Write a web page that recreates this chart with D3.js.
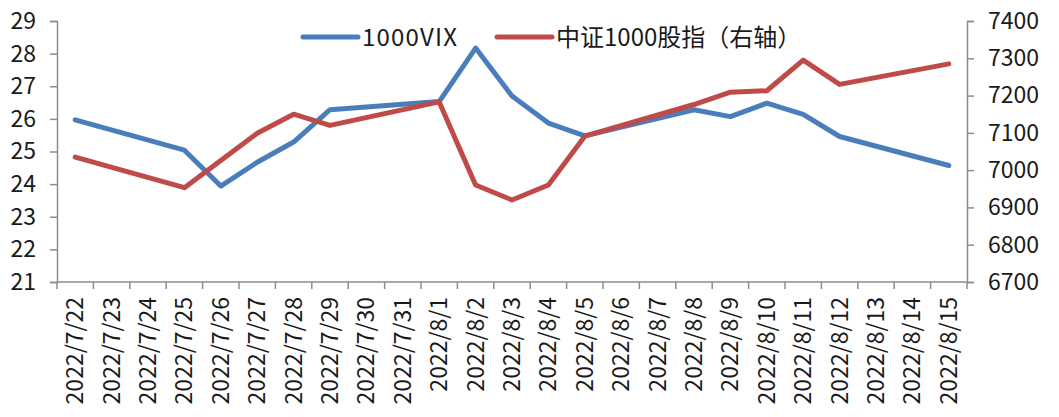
<!DOCTYPE html>
<html>
<head>
<meta charset="utf-8">
<script src="https://cdn.jsdelivr.net/npm/d3@7"></script>
<style>
  body { margin: 0; background: #fff; }
  svg { display: block; font-family: "Noto Sans CJK SC", "Noto Sans", sans-serif; }
</style>
</head>
<body>
<div id="chart"></div>
<script>
const dates = ["2022/7/22","2022/7/23","2022/7/24","2022/7/25","2022/7/26","2022/7/27","2022/7/28",
  "2022/7/29","2022/7/30","2022/7/31","2022/8/1","2022/8/2","2022/8/3","2022/8/4","2022/8/5",
  "2022/8/6","2022/8/7","2022/8/8","2022/8/9","2022/8/10","2022/8/11","2022/8/12","2022/8/13",
  "2022/8/14","2022/8/15"];
// null = non-trading day
const vix = [25.97, null, null, 25.04, 23.94, 24.67, 25.29, 26.28, null, null, 26.53, 28.17, 26.70,
  25.87, 25.48, null, null, 26.28, 26.07, 26.48, 26.14, 25.46, null, null, 24.57];
const csi1000 = [7035, null, null, 6953, 7026, 7099, 7150, 7120, null, null, 7183, 6960, 6920,
  6960, 7091, null, null, 7176, 7209, 7213, 7295, 7230, null, null, 7285];
const leftTicks = [21, 22, 23, 24, 25, 26, 27, 28, 29];
const rightTicks = [6700, 6800, 6900, 7000, 7100, 7200, 7300, 7400];
const seriesNames = ["1000VIX", "中证1000股指（右轴）"];
const colors = ["#4a7ebb", "#be4b48"];

const width = 1059, height = 417;
const margin = { top: 21, right: 92, bottom: 135, left: 57 };
const axisColor = "#8c8c8c";

const svg = d3.select("#chart").append("svg")
  .attr("width", width).attr("height", height);

const x = d3.scaleBand().domain(dates).range([margin.left, width - margin.right]);
const yL = d3.scaleLinear().domain([21, 29]).range([height - margin.bottom, margin.top]);
const yR = d3.scaleLinear().domain([6700, 7400]).range([height - margin.bottom, margin.top]);
const y0 = height - margin.bottom;

// left axis
const gl = svg.append("g").attr("transform", `translate(${margin.left},0)`)
  .call(d3.axisLeft(yL).tickValues(leftTicks).tickSize(7).tickPadding(14));
// right axis
const gr = svg.append("g").attr("transform", `translate(${width - margin.right},0)`)
  .call(d3.axisRight(yR).tickValues(rightTicks).tickFormat(d3.format("d")).tickSize(7).tickPadding(14));
[gl, gr].forEach(g => {
  g.selectAll("path, line").attr("stroke", axisColor).attr("stroke-width", 1.5);
  g.selectAll("text").attr("font-size", 23).attr("fill", "#1a1a1a")
    .attr("font-family", "'Noto Sans CJK SC', sans-serif");
});

// bottom axis: ticks at category boundaries, labels at centers
const gb = svg.append("g");
gb.append("line")
  .attr("x1", margin.left).attr("x2", width - margin.right)
  .attr("y1", y0).attr("y2", y0)
  .attr("stroke", axisColor).attr("stroke-width", 1.5);
gb.selectAll("line.tick")
  .data(dates.concat([null]))
  .join("line").attr("class", "tick")
  .attr("x1", (d, i) => margin.left + i * x.bandwidth())
  .attr("x2", (d, i) => margin.left + i * x.bandwidth())
  .attr("y1", y0).attr("y2", y0 + 7)
  .attr("stroke", axisColor).attr("stroke-width", 1.5);
gb.selectAll("text")
  .data(dates)
  .join("text")
  .attr("transform", d => `translate(${x(d) + x.bandwidth() / 2 + 8},${y0 + 15}) rotate(-90)`)
  .attr("text-anchor", "end")
  .attr("font-size", 23)
  .attr("fill", "#1a1a1a")
  .text(d => d);

// lines
const cx = d => x(d.date) + x.bandwidth() / 2;
const series = [
  { vals: vix, scale: yL },
  { vals: csi1000, scale: yR }
];
series.forEach((s, k) => {
  const pts = dates.map((d, i) => ({ date: d, v: s.vals[i] })).filter(p => p.v != null);
  svg.append("path")
    .datum(pts)
    .attr("fill", "none")
    .attr("stroke", colors[k])
    .attr("stroke-width", 5)
    .attr("stroke-linejoin", "round")
    .attr("stroke-linecap", "round")
    .attr("d", d3.line().x(cx).y(p => s.scale(p.v)));
});

// legend
const legendX = [303, 497];
const legend = svg.append("g");
seriesNames.forEach((name, k) => {
  legend.append("line")
    .attr("x1", legendX[k]).attr("x2", legendX[k] + 55)
    .attr("y1", 37).attr("y2", 37)
    .attr("stroke", colors[k]).attr("stroke-width", 5)
    .attr("stroke-linecap", "round");
  legend.append("text")
    .attr("x", legendX[k] + 59).attr("y", 37)
    .attr("dy", "0.36em")
    .attr("font-size", 24)
    .attr("letter-spacing", k === 0 ? 1.2 : 0)
    .attr("fill", "#1a1a1a")
    .text(name);
});
</script>
</body>
</html>
